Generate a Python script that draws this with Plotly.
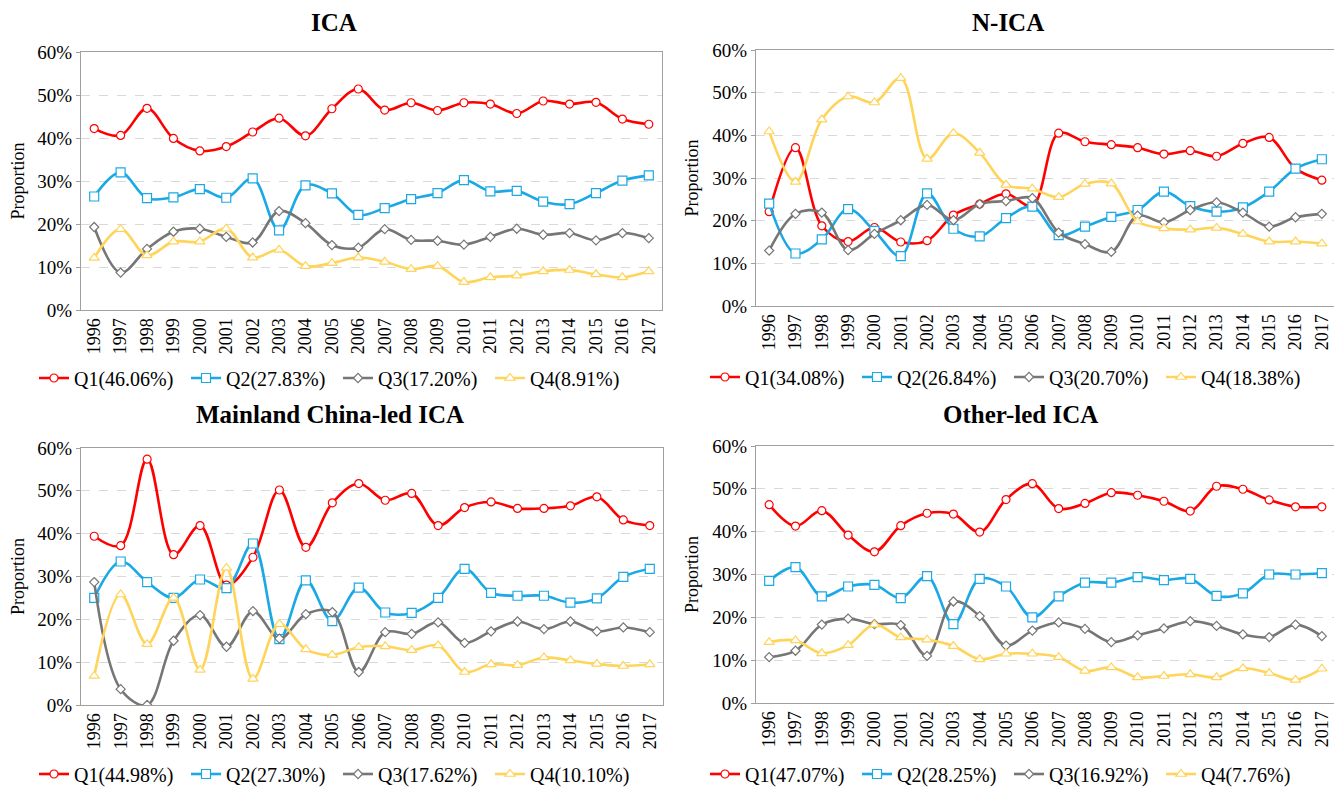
import plotly.graph_objects as go

years = [str(y) for y in range(1996, 2018)]

# ICA
ica_q1 = [42.2, 40.6, 46.9, 39.9, 37.0, 38.0, 41.4, 44.6, 40.5, 46.8, 51.4, 46.5, 48.2, 46.4, 48.2, 47.9, 45.7, 48.6, 47.9, 48.3, 44.4, 43.2]
ica_q2 = [26.4, 32.0, 26.0, 26.2, 28.1, 26.1, 30.6, 18.5, 29.0, 27.1, 22.1, 23.7, 25.8, 27.2, 30.2, 27.6, 27.7, 25.2, 24.6, 27.2, 30.1, 31.3]
ica_q3 = [19.3, 8.7, 14.2, 18.2, 18.9, 17.0, 15.7, 23.0, 20.2, 15.1, 14.5, 18.8, 16.3, 16.1, 15.2, 17.0, 18.9, 17.5, 17.9, 16.2, 17.9, 16.7]
ica_q4 = [12.1, 18.8, 12.7, 15.9, 15.9, 18.9, 12.2, 14.0, 10.2, 10.9, 12.2, 11.2, 9.5, 10.2, 6.5, 7.6, 8.0, 9.0, 9.3, 8.3, 7.6, 9.0]

# N-ICA
nica_q1 = [22.1, 37.1, 18.8, 15.1, 18.4, 15.0, 15.3, 21.3, 23.9, 26.3, 23.5, 40.5, 38.5, 37.8, 37.1, 35.6, 36.4, 35.1, 38.1, 39.5, 32.2, 29.5]
nica_q2 = [24.0, 12.3, 15.6, 22.7, 17.6, 11.7, 26.4, 18.1, 16.3, 20.6, 23.3, 16.6, 18.6, 20.9, 22.5, 26.8, 23.4, 22.1, 23.1, 26.8, 32.2, 34.4]
nica_q3 = [13.0, 21.6, 21.9, 13.1, 16.9, 20.1, 23.7, 20.1, 23.9, 24.6, 25.3, 17.2, 14.5, 12.7, 21.2, 19.6, 22.5, 24.3, 21.9, 18.6, 20.8, 21.6]
nica_q4 = [40.9, 29.1, 43.7, 49.1, 47.7, 53.4, 34.5, 40.5, 35.9, 28.4, 27.5, 25.5, 28.6, 28.7, 19.8, 18.2, 17.9, 18.3, 16.9, 15.1, 15.1, 14.6]

# Mainland China-led ICA
mc_q1 = [39.4, 37.2, 57.4, 35.1, 41.9, 28.0, 34.5, 50.2, 36.8, 47.2, 51.7, 47.8, 49.4, 41.9, 46.1, 47.4, 45.9, 45.9, 46.5, 48.6, 43.2, 41.9]
mc_q2 = [25.0, 33.5, 28.7, 25.0, 29.3, 27.3, 37.7, 15.4, 29.1, 19.6, 27.4, 21.6, 21.5, 25.0, 31.8, 26.2, 25.5, 25.5, 23.9, 24.9, 29.9, 31.8]
mc_q3 = [28.7, 3.7, 0.0, 15.0, 21.0, 13.6, 21.9, 15.5, 21.2, 21.7, 7.7, 17.0, 16.6, 19.3, 14.5, 17.2, 19.5, 17.7, 19.5, 17.2, 18.1, 17.0]
mc_q4 = [6.8, 25.8, 14.2, 25.0, 8.2, 32.0, 6.1, 18.9, 13.0, 11.7, 13.5, 13.7, 12.8, 13.9, 7.7, 9.5, 9.3, 11.1, 10.4, 9.6, 9.1, 9.5]

# Other-led ICA
ol_q1 = [46.3, 41.3, 44.9, 39.2, 35.3, 41.4, 44.3, 44.1, 39.9, 47.5, 51.2, 45.4, 46.6, 49.1, 48.5, 47.1, 44.8, 50.6, 49.9, 47.4, 45.8, 45.8]
ol_q2 = [28.5, 31.7, 24.9, 27.2, 27.6, 24.5, 29.6, 18.4, 29.0, 27.2, 20.0, 24.9, 28.1, 28.1, 29.4, 28.7, 29.0, 25.0, 25.6, 30.0, 30.0, 30.3]
ol_q3 = [10.7, 12.2, 18.3, 19.7, 18.4, 18.2, 11.0, 23.7, 20.3, 13.4, 16.9, 18.8, 17.3, 14.2, 15.8, 17.4, 19.1, 18.0, 16.0, 15.4, 18.3, 15.6]
ol_q4 = [14.2, 14.6, 11.6, 13.5, 18.3, 15.3, 14.8, 13.3, 10.2, 11.5, 11.5, 10.7, 7.5, 8.3, 6.0, 6.3, 6.7, 6.0, 8.1, 7.0, 5.4, 8.0]

panel_titles = ["ICA", "N-ICA", "Mainland China-led ICA", "Other-led ICA"]
legend_names = [
    ["Q1(46.06%)", "Q2(27.83%)", "Q3(17.20%)", "Q4(8.91%)"],
    ["Q1(34.08%)", "Q2(26.84%)", "Q3(20.70%)", "Q4(18.38%)"],
    ["Q1(44.98%)", "Q2(27.30%)", "Q3(17.62%)", "Q4(10.10%)"],
    ["Q1(47.07%)", "Q2(28.25%)", "Q3(16.92%)", "Q4(7.76%)"],
]
panel_data = [
    [ica_q1, ica_q2, ica_q3, ica_q4],
    [nica_q1, nica_q2, nica_q3, nica_q4],
    [mc_q1, mc_q2, mc_q3, mc_q4],
    [ol_q1, ol_q2, ol_q3, ol_q4],
]

# the page body has an 8px default margin: lay the figure out in page pixels
OFF = 8
W, H = 1342 - OFF, 789 - OFF
FONT = "Liberation Serif, Times New Roman, serif"
colors = ["#FF0000", "#1BA9E6", "#767676", "#FFD45A"]
symbols = ["circle", "square", "diamond", "triangle-up"]
msizes = [8, 9, 7, 9]

# page-pixel boxes: (left, right, top, bottom)
boxes = [(81, 662, 52, 310), (756, 1335, 50, 306), (81, 663, 448, 705), (756, 1335, 446, 703)]
# (x centre, y, y anchor) in page pixels
title_pos = [(334, 8, "top"), (1008, 8, "top"), (330, 414, "middle"), (1020, 414, "middle")]
legend_pos = [(34, 378), (705, 377), (34, 774), (705, 774)]


def px_x(v):
    return (v - OFF) / W


def px_y(v):
    return 1 - (v - OFF) / H


fig = go.Figure()
for p in range(4):
    ax = "" if p == 0 else str(p + 1)
    lg = "legend" if p == 0 else f"legend{p + 1}"
    for s in range(4):
        fig.add_trace(go.Scatter(
            x=years, y=[v / 100 for v in panel_data[p][s]],
            name=legend_names[p][s], mode="lines+markers",
            line=dict(color=colors[s], width=2.6, shape="spline", smoothing=1.0),
            marker=dict(symbol=symbols[s], size=msizes[s], color="white",
                        line=dict(color=colors[s], width=1.2)),
            xaxis="x" + ax, yaxis="y" + ax, legend=lg,
        ))
    l, r, t, b = boxes[p]
    fig.layout["xaxis" + ax] = dict(
        domain=[px_x(l), px_x(r)], anchor="y" + ax, type="category",
        range=[-0.5, 21.5], tickangle=-90, showgrid=False, automargin=False,
        showline=True, mirror=True, linecolor="#A0A0A0", linewidth=1.2,
        ticks="", tickfont=dict(family=FONT, size=18, color="black"),
    )
    fig.layout["yaxis" + ax] = dict(
        domain=[px_y(b), px_y(t)], anchor="x" + ax, range=[0, 0.6],
        dtick=0.1, tickformat=".0%", showgrid=True, gridcolor="#D9D9D9",
        griddash="dash", gridwidth=1, zeroline=False, automargin=False,
        showline=True, mirror=True, linecolor="#A0A0A0", linewidth=1.2,
        ticks="outside", ticklen=4, tickcolor="#A0A0A0",
        tickfont=dict(family=FONT, size=19, color="black"),
        title=dict(text="Proportion", font=dict(family=FONT, size=18, color="black"), standoff=8),
    )
    lx, ly = legend_pos[p]
    fig.layout[lg] = dict(
        orientation="h", xref="container", yref="container",
        x=px_x(lx), y=px_y(ly), xanchor="left", yanchor="middle",
        font=dict(family=FONT, size=20, color="black"), bgcolor="rgba(0,0,0,0)",
        itemwidth=30, entrywidth=107, entrywidthmode="pixels", tracegroupgap=0,
    )
    tx, ty, ya = title_pos[p]
    fig.add_annotation(
        text="<b>" + panel_titles[p] + "</b>", x=px_x(tx), y=px_y(ty),
        xref="paper", yref="paper", xanchor="center", yanchor=ya, borderpad=0,
        showarrow=False, font=dict(family=FONT, size=25, color="black"),
    )

fig.update_layout(
    width=W, height=H, margin=dict(l=0, r=0, t=0, b=0, autoexpand=False),
    paper_bgcolor="white", plot_bgcolor="white", showlegend=True,
)

fig.write_html("out.html")
